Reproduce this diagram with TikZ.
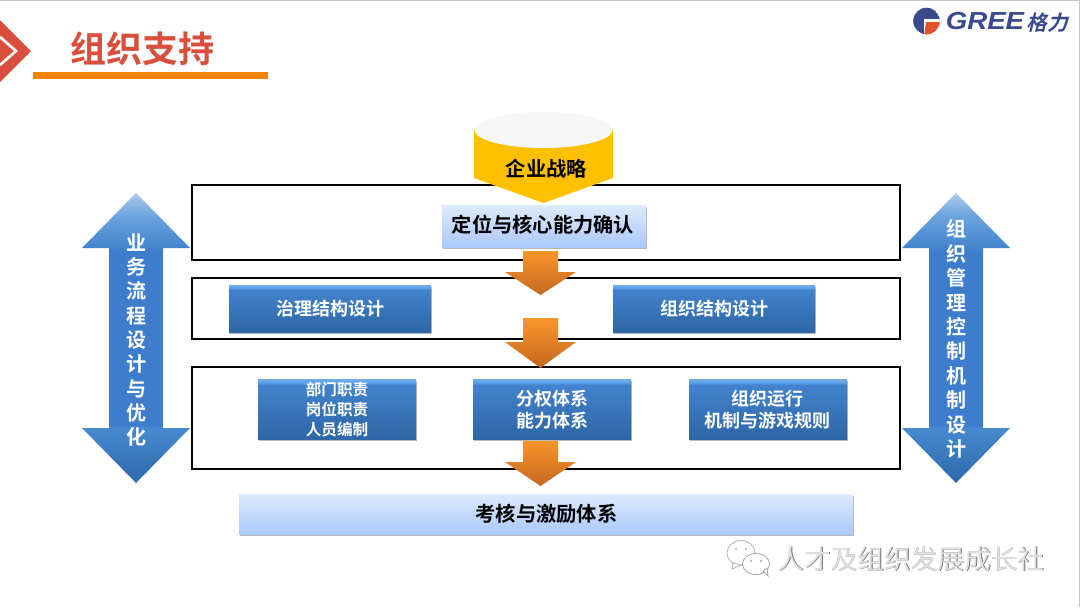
\documentclass[tikz,border=0pt]{standalone}
\usepackage{fontspec}
\setmainfont{Noto Sans CJK SC}
\newfontfamily\cjkb{Noto Sans CJK SC Bold}
\newfontfamily\cjkslant[FakeSlant=0.25]{Noto Sans CJK SC Bold}
\newfontfamily\logofont[FakeStretch=1.12]{Liberation Sans Bold Italic}
\definecolor{redT}{HTML}{D94F3D}
\definecolor{barO}{HTML}{F28500}
\definecolor{gold}{HTML}{FFC000}
\definecolor{logoB}{HTML}{3A4A8C}
\definecolor{logoR}{HTML}{E2532B}
\definecolor{lightTop}{RGB}{222,234,254}
\definecolor{lightBot}{RGB}{171,201,251}
\definecolor{orTop}{RGB}{249,150,43}
\definecolor{orBot}{RGB}{196,104,32}
\pgfdeclareverticalshading{dblarrow}{100bp}{rgb(0bp)=(0.18,0.41,0.67);rgb(25bp)=(0.18,0.41,0.67);rgb(34.5bp)=(0.28,0.54,0.81);rgb(35bp)=(0.24,0.49,0.80);rgb(65bp)=(0.24,0.49,0.80);rgb(66bp)=(0.28,0.53,0.81);rgb(71bp)=(0.42,0.64,0.87);rgb(75bp)=(0.68,0.79,0.92);rgb(100bp)=(0.68,0.79,0.92)}
\pgfdeclareverticalshading{bluebox}{100bp}{rgb(0bp)=(0.18,0.40,0.65);rgb(25bp)=(0.18,0.40,0.65);rgb(70bp)=(0.26,0.51,0.80);rgb(72bp)=(0.36,0.62,0.90);rgb(75bp)=(0.44,0.68,0.93);rgb(100bp)=(0.44,0.68,0.93)}
\tikzset{
  frame/.style={draw=black,line width=1.5pt,fill=white},
  bluerect/.style={shading=bluebox},
  lightrect/.style={top color=lightTop,bottom color=lightBot},
  softshadow/.style={fill=black!28,draw=none},
  darrow/.style={shading=dblarrow},
  oarrow/.style={top color=orTop,bottom color=orBot},
  wlabel/.style={text=white,font=\cjkb\fontsize{#1}{#1}\selectfont,align=center,inner sep=0pt},
  wlabel/.default=13.5pt,
  klabel/.style={text=black,font=\cjkb\fontsize{15.2pt}{15.2pt}\selectfont,align=center,inner sep=0pt},
}
\begin{document}
\begin{tikzpicture}[x=0.75pt,y=-0.75pt]
\useasboundingbox (0,0) rectangle (1080,607);
\fill[white] (0,0) rectangle (1080,607);
\draw[black!22,line width=1pt] (0,0.5) -- (1080,0.5);
\draw[black!22,line width=0.75pt] (1079.5,0) -- (1079.5,607);

% header
\fill[redT] (0,20) -- (31,51) -- (0,82) -- cycle;
\draw[white,line width=2pt] (0,37) -- (16,51) -- (0,65);
\node[text=redT,font=\cjkb\fontsize{27pt}{27pt}\selectfont,inner sep=0pt] (title) at (142,49) {组织支持};
\fill[barO] (33,72) rectangle (268,79);

% logo
\begin{scope}
\clip (926.5,21) circle (13.3);
\fill[logoB] (926.5,21) circle (13.3);
\fill[white] (924,18.5) rectangle (942,36);
\fill[logoR] (926,22) -- (942,22) -- (942,36) -- (924,36) -- cycle;
\end{scope}
\node[text=logoB,font=\logofont\fontsize{18.5pt}{18.5pt}\selectfont,inner sep=0pt] (gree) at (985,21.5) {GREE};
\node[text=logoB,font=\cjkslant\fontsize{15.5pt}{15.5pt}\selectfont,inner sep=0pt] (gelizi) at (1047,23) {格力};

% frames
\draw[frame] (192,185) rectangle (900,260);
\draw[frame] (192,278) rectangle (900,339);
\draw[frame] (192,367) rectangle (900,469);

% side double arrows
\shade[darrow] (136,193) -- (190,248) -- (163,248) -- (163,428) -- (190,428) -- (136,483) -- (82,428) -- (109,428) -- (109,248) -- (82,248) -- cycle;
\shade[darrow] (956,193) -- (1010,248) -- (983,248) -- (983,428) -- (1010,428) -- (956,483) -- (902,428) -- (929,428) -- (929,248) -- (902,248) -- cycle;
\node[wlabel=15pt,font=\cjkb\fontsize{15pt}{18.2pt}\selectfont] (leftlabel) at (136,340) {业\\务\\流\\程\\设\\计\\与\\优\\化};
\node[wlabel=15pt,font=\cjkb\fontsize{15pt}{18.3pt}\selectfont] (rightlabel) at (956,339) {组\\织\\管\\理\\控\\制\\机\\制\\设\\计};

% strategy cylinder
\fill[gold] (474,130) -- (474,178) -- (543.5,203) -- (613,178) -- (613,130) -- cycle;
\fill[black!3] (543.5,130) ellipse (69 and 18);
\node[klabel] (strategy) at (546.5,169) {企业战略};

% orange arrows
\shade[oarrow] (523,251) -- (558,251) -- (558,272) -- (576,272) -- (540.5,295) -- (505,272) -- (523,272) -- cycle;
\shade[oarrow] (523,318) -- (558,318) -- (558,342) -- (576,342) -- (540.5,368) -- (505,342) -- (523,342) -- cycle;
\shade[oarrow] (523,440) -- (558,440) -- (558,462) -- (576,462) -- (540.5,486) -- (505,462) -- (523,462) -- cycle;

% light boxes
\fill[softshadow] (443,207) rectangle (647,249);
\shade[lightrect] (442,205) rectangle (646,247);
\node[klabel] (position) at (543,225) {定位与核心能力确认};
\fill[softshadow] (240,496) rectangle (854,536);
\shade[lightrect] (239,494) rectangle (853,534);
\node[klabel] (appraisal) at (546.5,514) {考核与激励体系};

% blue boxes
\fill[softshadow] (230,287) rectangle (432,334);
\shade[bluerect] (229,285) rectangle (431,332);
\node[wlabel] (gov) at (330,309) {治理结构设计};
\fill[softshadow] (614,287) rectangle (816,334);
\shade[bluerect] (613,285) rectangle (815,332);
\node[wlabel] (org) at (714,309) {组织结构设计};
\fill[softshadow] (259,381) rectangle (417,441);
\shade[bluerect] (258,379) rectangle (416,439);
\node[wlabel=11.7pt,font=\cjkb\fontsize{11.7pt}{15pt}\selectfont] (duty) at (337,410) {部门职责\\岗位职责\\人员编制};
\fill[softshadow] (474,381) rectangle (632,441);
\shade[bluerect] (473,379) rectangle (631,439);
\node[wlabel,font=\cjkb\fontsize{13.5pt}{16.5pt}\selectfont] (auth) at (552,410) {分权体系\\能力体系};
\fill[softshadow] (690,381) rectangle (848,441);
\shade[bluerect] (689,379) rectangle (847,439);
\node[wlabel,font=\cjkb\fontsize{13.5pt}{16.5pt}\selectfont] (run) at (767,410) {组织运行\\机制与游戏规则};

% watermark
\draw[black!30,fill=white,line width=0.6pt] (741,553) ellipse (14 and 12.5);
\fill[white,draw=black!30,line width=0.6pt] (733,563) -- (732,569) -- (741,565) -- cycle;
\draw[black!35,fill=white,line width=0.6pt] (756,564) ellipse (13.5 and 10.5);
\fill[white,draw=black!35,line width=0.6pt] (763,571) -- (768,576) -- (767,568) -- cycle;
\fill[black!30] (736,549) circle (1.2) (746,549) circle (1.2);
\fill[black!35] (751,561) circle (1.1) (761,561) circle (1.1);
\node[text=black!55,font=\fontsize{20pt}{20pt}\selectfont,inner sep=0pt] (wmshadow) at (911.7,559.7) {人才及组织发展成长社};
\node[text=black!12,font=\fontsize{20pt}{20pt}\selectfont,inner sep=0pt] (wm) at (911,559) {人才及组织发展成长社};
\end{tikzpicture}
\end{document}
